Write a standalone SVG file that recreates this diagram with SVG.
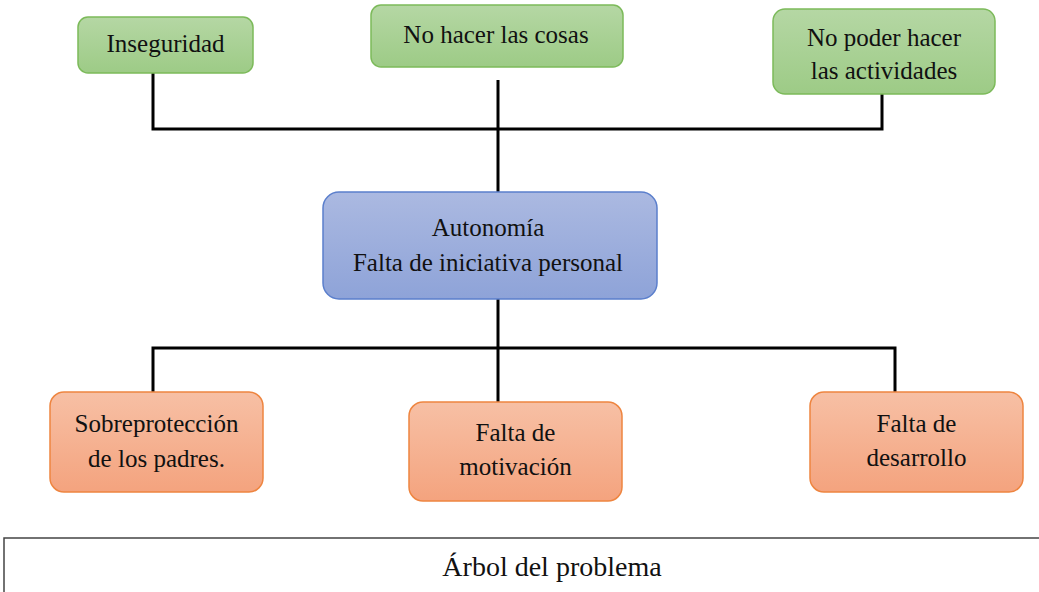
<svg xmlns="http://www.w3.org/2000/svg" width="1039" height="592" viewBox="0 0 1039 592">
<defs>
<linearGradient id="gG" x1="0" y1="0" x2="0" y2="1"><stop offset="0" stop-color="#b5d7a4"/><stop offset="1" stop-color="#9dcb86"/></linearGradient>
<linearGradient id="gB" x1="0" y1="0" x2="0" y2="1"><stop offset="0" stop-color="#abb9e1"/><stop offset="1" stop-color="#8ea3d8"/></linearGradient>
<linearGradient id="gO" x1="0" y1="0" x2="0" y2="1"><stop offset="0" stop-color="#f7c0a5"/><stop offset="1" stop-color="#f4a37e"/></linearGradient>
</defs>
<style>
.g{fill:url(#gG);stroke:#7cba5a;stroke-width:1.5}
.b{fill:url(#gB);stroke:#5b7fcc;stroke-width:1.5}
.o{fill:url(#gO);stroke:#ee8540;stroke-width:1.5}
.t{font-family:"Liberation Serif","Times New Roman",serif;font-size:25px;fill:#111;text-anchor:middle}
.c{fill:none;stroke:#000;stroke-width:3}
</style>
<rect width="1039" height="592" fill="#fff"/>
<g id="connectors">
<polyline class="c" points="153,73 153,129 882,129 882,94"/>
<line class="c" x1="498" y1="80" x2="498" y2="193"/>
<line class="c" x1="498" y1="299" x2="498" y2="402"/>
<polyline class="c" points="153,392 153,348 895,348 895,392"/>
</g>
<g id="n1"><rect class="g" x="78" y="17" width="175" height="56" rx="10"/><text class="t" x="165.5" y="52">Inseguridad</text></g>
<g id="n2"><rect class="g" x="371" y="5" width="252" height="62" rx="10"/><text class="t" x="496" y="43">No hacer las cosas</text></g>
<g id="n3"><rect class="g" x="773" y="9" width="222" height="85" rx="12"/><text class="t" x="884" y="46">No poder hacer</text><text class="t" x="884" y="79">las actividades</text></g>
<g id="n4"><rect class="b" x="323" y="192" width="334" height="107" rx="16"/><text class="t" x="488" y="236">Autonomía</text><text class="t" x="488" y="271">Falta de iniciativa personal</text></g>
<g id="n5"><rect class="o" x="50" y="392" width="213" height="100" rx="14"/><text class="t" x="156.5" y="432">Sobreprotección</text><text class="t" x="156.5" y="467">de los padres.</text></g>
<g id="n6"><rect class="o" x="409" y="402" width="213" height="99" rx="14"/><text class="t" x="515.5" y="441">Falta de</text><text class="t" x="515.5" y="475">motivación</text></g>
<g id="n7"><rect class="o" x="810" y="392" width="213" height="100" rx="14"/><text class="t" x="916.5" y="432">Falta de</text><text class="t" x="916.5" y="466">desarrollo</text></g>
<g id="caption"><rect x="4" y="538" width="1045" height="70" fill="none" stroke="#444" stroke-width="1.5"/><text x="552" y="576" font-family="'Liberation Serif','Times New Roman',serif" font-size="28" fill="#111" text-anchor="middle">Árbol del problema</text></g>
</svg>
